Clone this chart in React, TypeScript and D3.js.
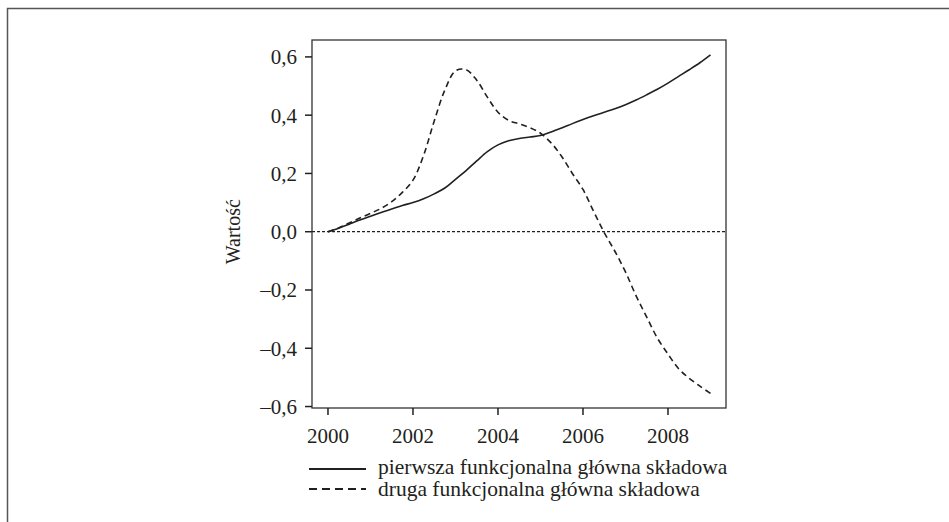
import * as d3 from "d3";
import React from "react";

// years sampled every quarter
const years = d3.range(0, 37).map((i) => 2000 + i * 0.25);

const firstFpc = [
  0, 0.012, 0.026, 0.04, 0.053, 0.066, 0.078, 0.09, 0.1, 0.113, 0.13, 0.15,
  0.18, 0.21, 0.243, 0.275, 0.298, 0.312, 0.32, 0.325, 0.33, 0.342, 0.356,
  0.371, 0.385, 0.398, 0.41, 0.422, 0.436, 0.452, 0.47, 0.489, 0.51, 0.533,
  0.556, 0.58, 0.607,
];

const secondFpc = [
  0, 0.013, 0.03, 0.047, 0.063, 0.08, 0.103, 0.135, 0.177, 0.262, 0.38, 0.486,
  0.552, 0.556, 0.52, 0.462, 0.41, 0.382, 0.37, 0.357, 0.338, 0.305, 0.258,
  0.2, 0.145, 0.07, -0.003, -0.067, -0.138, -0.22, -0.293, -0.365, -0.42,
  -0.47, -0.503, -0.53, -0.555,
];

const xTicks = [2000, 2002, 2004, 2006, 2008];
const yTicks = [-0.6, -0.4, -0.2, 0, 0.2, 0.4, 0.6];
const yTickLabels = ["–0,6", "–0,4", "–0,2", "0,0", "0,2", "0,4", "0,6"];

const seriesNames = [
  "pierwsza funkcjonalna główna składowa",
  "druga funkcjonalna główna składowa",
];
const yTitle = "Wartość";

export default function App() {
  const box = { left: 312, right: 726, top: 40, bottom: 408 };
  const font = "Liberation Serif";
  const ink = "#231f20";

  const x = d3
    .scaleLinear()
    .domain([1999.624, 2009.365])
    .range([box.left, box.right]);
  const y = d3
    .scaleLinear()
    .domain([-0.605, 0.658])
    .range([box.bottom, box.top]);

  const line = d3
    .line<number>()
    .x((_, i) => x(years[i]))
    .y((d) => y(d))
    .curve(d3.curveCatmullRom);

  return (
    <svg
      width={949}
      height={522}
      style={{ position: "absolute", left: 0, top: 0, background: "#fff", fontFamily: font }}
    >
      {/* outer frame */}
      <rect x={7.5} y={8.5} width={1000} height={600} fill="none" stroke="#555" strokeWidth={1.5} />

      {/* plot box */}
      <rect
        x={box.left}
        y={box.top}
        width={box.right - box.left}
        height={box.bottom - box.top}
        fill="none"
        stroke="#333"
        strokeWidth={1.3}
      />

      {/* zero line */}
      <line
        x1={box.left}
        x2={box.right}
        y1={y(0)}
        y2={y(0)}
        stroke={ink}
        strokeWidth={1.2}
        strokeDasharray="3,2"
      />

      {/* y axis */}
      {yTicks.map((t, i) => (
        <g key={t} transform={`translate(0, ${y(t)})`}>
          <line x1={box.left - 7} x2={box.left} stroke={ink} strokeWidth={1.5} />
          <text x={297} dy="0.35em" textAnchor="end" fontSize={21} fill={ink}>
            {yTickLabels[i]}
          </text>
        </g>
      ))}

      {/* x axis */}
      {xTicks.map((t) => (
        <g key={t} transform={`translate(${x(t)}, 0)`}>
          <line y1={box.bottom} y2={box.bottom + 7} stroke={ink} strokeWidth={1.5} />
          <text y={443} textAnchor="middle" fontSize={21} fill={ink}>
            {t}
          </text>
        </g>
      ))}

      <text
        transform={`translate(240, ${y(0)}) rotate(-90)`}
        textAnchor="middle"
        fontSize={20}
        fill={ink}
      >
        {yTitle}
      </text>

      {/* curves */}
      <path d={line(firstFpc) ?? ""} fill="none" stroke={ink} strokeWidth={1.6} />
      <path
        d={line(secondFpc) ?? ""}
        fill="none"
        stroke={ink}
        strokeWidth={1.6}
        strokeDasharray="6,4"
      />

      {/* legend */}
      <line x1={309} x2={366} y1={469} y2={469} stroke={ink} strokeWidth={1.8} />
      <line
        x1={309}
        x2={366}
        y1={489}
        y2={489}
        stroke={ink}
        strokeWidth={1.8}
        strokeDasharray="8,5"
      />
      <text x={378} y={474} fontSize={21.5} fill={ink}>
        {seriesNames[0]}
      </text>
      <text x={378} y={496} fontSize={21.5} fill={ink}>
        {seriesNames[1]}
      </text>
    </svg>
  );
}
